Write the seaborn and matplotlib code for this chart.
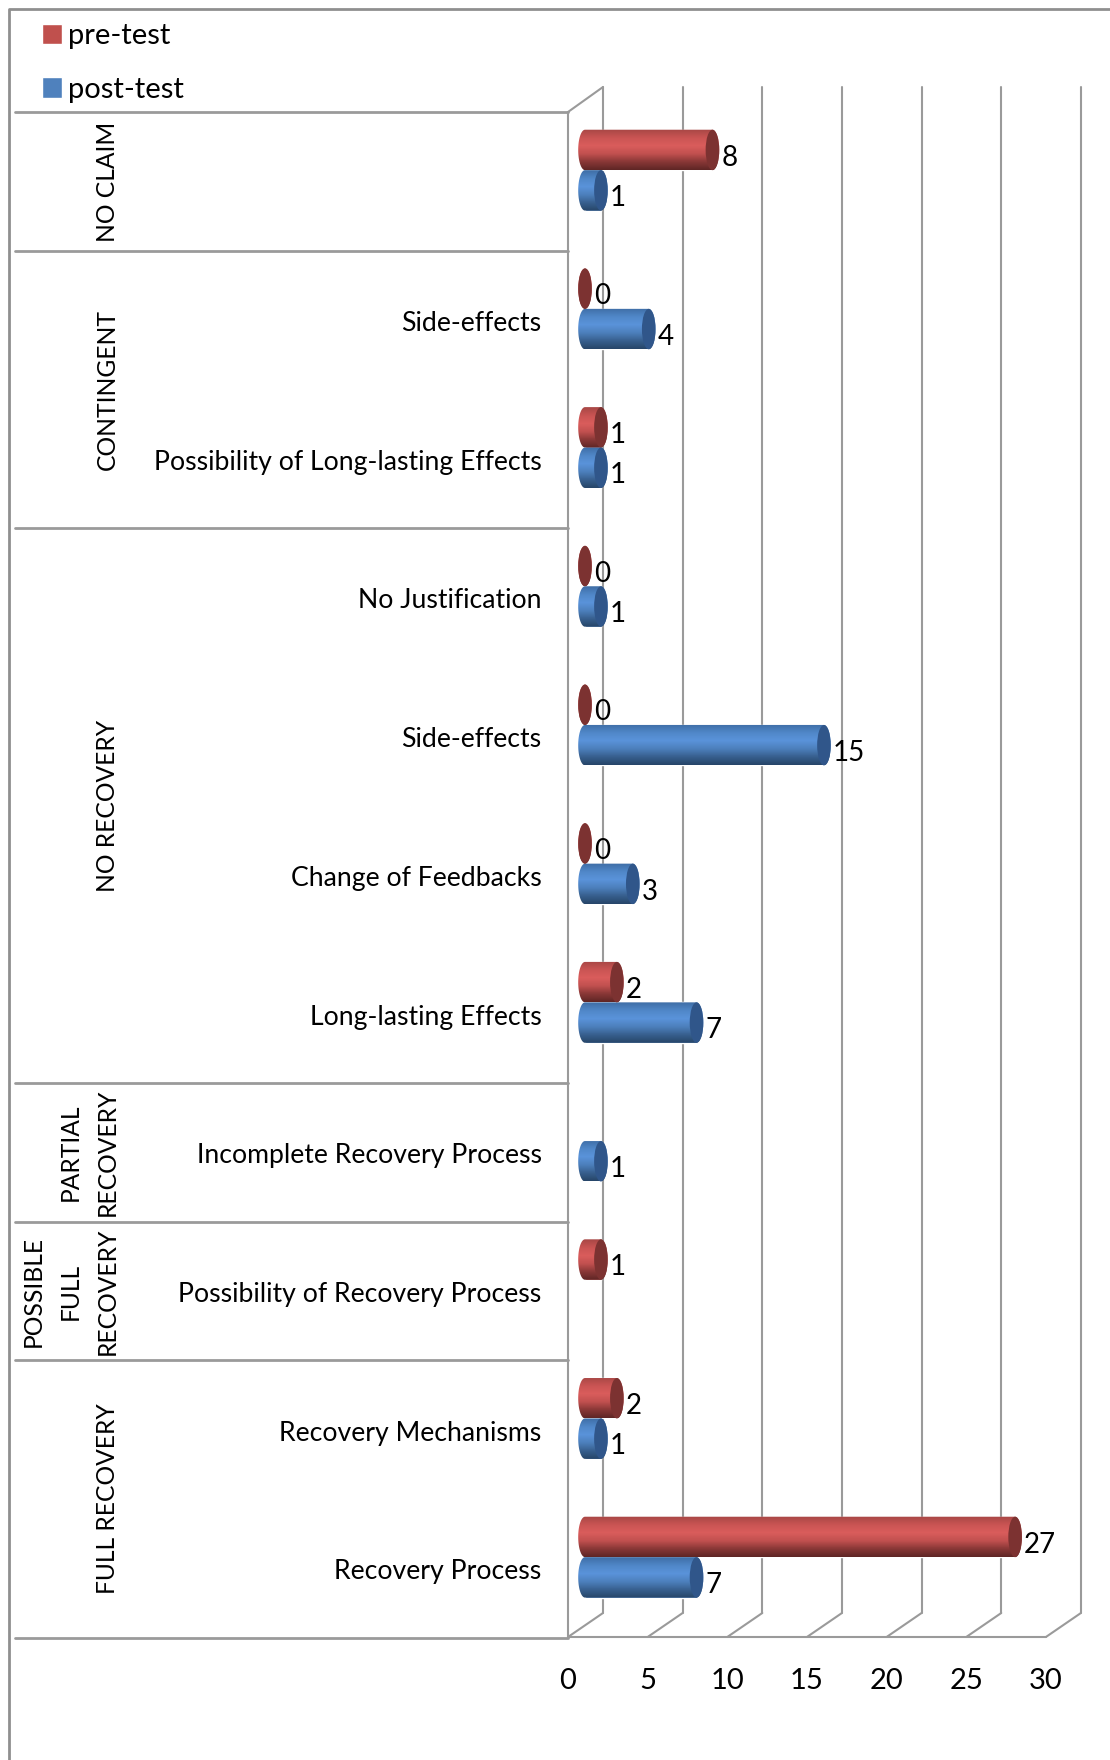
import numpy as np
import pandas as pd
import matplotlib
matplotlib.use("Agg")
import matplotlib.pyplot as plt
from matplotlib.patches import Ellipse, Polygon
from matplotlib.colors import LinearSegmentedColormap
import seaborn as sns

groups = ["NO CLAIM", "CONTINGENT", "CONTINGENT", "NO RECOVERY", "NO RECOVERY", "NO RECOVERY",
          "NO RECOVERY", "PARTIAL\nRECOVERY", "POSSIBLE\nFULL\nRECOVERY",
          "FULL RECOVERY", "FULL RECOVERY"]
subcategories = ["", "Side-effects", "Possibility of Long-lasting Effects", "No Justification",
                 "Side-effects", "Change of Feedbacks", "Long-lasting Effects",
                 "Incomplete Recovery Process", "Possibility of Recovery Process",
                 "Recovery Mechanisms", "Recovery Process"]
pre_test = [8, 0, 1, 0, 0, 0, 2, np.nan, 1, 2, 27]
post_test = [1, 4, 1, 1, 15, 3, 7, 1, np.nan, 1, 7]
value_ticks = [0, 5, 10, 15, 20, 25, 30]

W, H = 1110, 1760
GRAY = "#9a9a9a"
PALETTE = {"pre-test": "#c0504d", "post-test": "#4f81bd"}
CAP = {"pre-test": "#7c3231", "post-test": "#30568a"}
SHADE = {
    "pre-test": ["#a84745", "#c95453", "#da5d5c", "#c25150", "#8a3837", "#5f2625"],
    "post-test": ["#3f6ea6", "#5087c8", "#5a93da", "#4d80bd", "#38608f", "#274669"],
}

sns.set_theme(style="white")
plt.rcParams["font.family"] = ["Lato", "DejaVu Sans"]

df = pd.DataFrame({
    "row": [f"{g}|{s}" for g, s in zip(groups, subcategories)] * 2,
    "count": pre_test + post_test,
    "test": ["pre-test"] * 11 + ["post-test"] * 11,
})

fig = plt.figure(figsize=(W / 100, H / 100), dpi=100, facecolor="white")

# Plot box in pixels: its left edge is the front of the 3-D wall, its bottom the front of the floor
BOX_L, BOX_R, BOX_T, BOX_B = 568, 1110, 87, 1637
ax = fig.add_axes([BOX_L / W, 1 - BOX_B / H, (BOX_R - BOX_L) / W, (BOX_B - BOX_T) / H])

sns.barplot(data=df, y="row", x="count", hue="test", palette=PALETTE, orient="h",
            width=0.583, gap=0, errorbar=None, saturation=1, ax=ax, zorder=3)

UNIT = 15.93          # pixels per count
ROW = 138.7           # pixels per row
ORIGIN_X = 585        # pixel position of a zero bar's centre
ORIGIN_Y = 170.15     # pixel position of the first row's bars
xd = lambda px: (px - ORIGIN_X) / UNIT
yd = lambda py: (py - ORIGIN_Y) / ROW

ax.set_xlim(xd(BOX_L), xd(BOX_R))
ax.set_ylim(yd(BOX_B), yd(BOX_T))
for s in ax.spines.values():
    s.set_visible(False)

# 3-D chart furniture: back gridlines, floor diagonals and the side wall
FRONT, BACK = xd(568), xd(603)
FLOOR_FRONT, FLOOR_BACK, TOP_BACK, TOP_FRONT = yd(1637), yd(1613), yd(87), yd(112)
line = dict(color=GRAY, lw=1.5, clip_on=False, zorder=1, solid_capstyle="round")
for v in value_ticks:
    ax.plot([v + BACK] * 2, [TOP_BACK, FLOOR_BACK], **line)
    ax.plot([v + FRONT, v + BACK], [FLOOR_FRONT, FLOOR_BACK], **line)
ax.plot([FRONT, 30 + FRONT], [FLOOR_FRONT] * 2, **line)
ax.plot([FRONT, FRONT], [TOP_FRONT, FLOOR_FRONT], **line)
ax.plot([FRONT, BACK], [TOP_FRONT, TOP_BACK], **line)

# Cylinder bars: a vertical shaded strip clipped to a capsule, with a darker end cap
ELL = 6.8 / UNIT
theta_l = np.linspace(np.pi / 2, 3 * np.pi / 2, 40)
theta_r = np.linspace(-np.pi / 2, np.pi / 2, 40)
series_names = list(ax.get_legend_handles_labels()[1])
for container, name in zip(ax.containers, series_names):
    cmap = LinearSegmentedColormap.from_list(name, SHADE[name])
    for bar in container:
        w, y0, h = bar.get_width(), bar.get_y(), bar.get_height()
        if np.isnan(w):
            continue
        yc = y0 + h / 2
        outline = np.vstack([
            np.column_stack([ELL * np.cos(theta_l), yc + h / 2 * np.sin(theta_l)]),
            np.column_stack([w + ELL * np.cos(theta_r), yc + h / 2 * np.sin(theta_r)]),
        ])
        clip = Polygon(outline, closed=True, transform=ax.transData, fc="none", ec="none")
        ax.add_patch(clip)
        im = ax.imshow(np.linspace(0, 1, 64).reshape(-1, 1), cmap=cmap, aspect="auto",
                       origin="upper", extent=(-ELL, w + ELL, y0 + h, y0), zorder=4,
                       interpolation="bilinear")
        im.set_clip_path(clip)
        ax.add_patch(Ellipse((w, yc), 2 * ELL, h, fc=CAP[name], ec="none", zorder=5))
        ax.annotate(f"{w:.0f}", xy=(w + ELL, yc), xytext=(1.5, -5.5), textcoords="offset points",
                    ha="left", va="center", fontsize=20, color="black", zorder=6)

ax.set_xlim(xd(BOX_L), xd(BOX_R))
ax.set_ylim(yd(BOX_B), yd(BOX_T))

# Axis labels
ax.set_xlabel("")
ax.set_ylabel("")
ax.set_xticks([v + FRONT for v in value_ticks], labels=[str(v) for v in value_ticks])
ax.set_yticks(np.arange(11) + 0.088, labels=subcategories)
ax.tick_params(axis="x", length=0, pad=22, labelsize=21, colors="black")
ax.tick_params(axis="y", length=0, pad=19, labelsize=19.2, colors="black")

# Group separators and rotated group names on the left side of the wall
edges = [0, 1, 3, 7, 8, 9, 11]
row_offset = 0.081 - 0.5
sep_x0 = xd(15)
for e in edges:
    ax.plot([sep_x0, FRONT], [e + row_offset] * 2, color=GRAY, lw=2, clip_on=False, zorder=1)
for a, b in zip(edges[:-1], edges[1:]):
    ax.text(xd(119), (a + b) / 2 + row_offset, groups[a], rotation=90, ha="right", va="center",
            multialignment="center", fontsize=17.7, linespacing=1.75, color="black", clip_on=False)

# Outer frame along the top and left of the figure
fig.add_artist(plt.Line2D([9 / W, 9 / W, 1], [0, 1 - 9 / H, 1 - 9 / H],
                          color="#8f8f8f", lw=2, transform=fig.transFigure))

sns.move_legend(ax, loc="upper left", bbox_to_anchor=(42 / W, 1 - 23 / H),
                bbox_transform=fig.transFigure, title=None, frameon=False, fontsize=21,
                handlelength=0.68, handleheight=0.68, handletextpad=0.2, labelspacing=0.95,
                borderpad=0, borderaxespad=0)
for t in ax.get_legend().get_texts():
    t.set_color("black")

fig.savefig("out.png", dpi=100)
